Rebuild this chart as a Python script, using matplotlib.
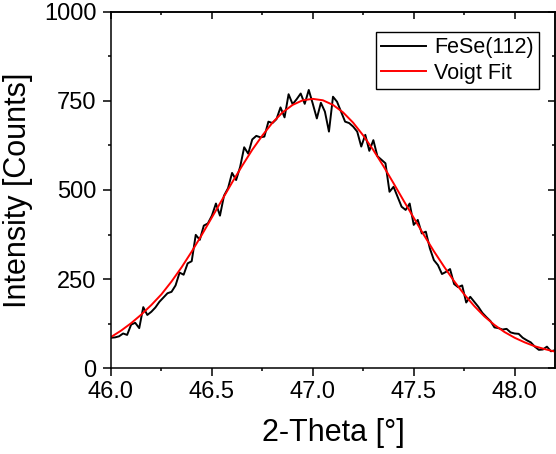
import numpy as np
import matplotlib
matplotlib.use('Agg')
import matplotlib.pyplot as plt
from matplotlib.ticker import MultipleLocator

plt.rcParams['font.family'] = ['Liberation Sans', 'DejaVu Sans']

# measured XRD scan, 0.02 deg steps from 46.00 to 48.20
theta_start, theta_step = 46.0, 0.02
counts = [85, 86, 89, 97, 93, 122, 127, 112, 171, 149,
          158, 170, 186, 198, 210, 214, 232, 268, 262, 294,
          300, 374, 360, 400, 406, 428, 462, 428, 484, 505,
          548, 528, 565, 620, 602, 642, 652, 648, 650, 692,
          688, 699, 732, 704, 769, 741, 755, 771, 742, 781,
          742, 701, 745, 720, 664, 762, 748, 720, 692, 688,
          678, 664, 622, 655, 610, 640, 595, 585, 575, 495,
          509, 481, 453, 444, 462, 402, 416, 378, 383, 336,
          303, 289, 264, 270, 278, 236, 227, 232, 184, 200,
          186, 172, 155, 143, 132, 114, 112, 108, 110, 100,
          97, 96, 85, 78, 72, 60, 51, 52, 60, 47,
          50]

# voigt fit curve, 0.05 deg steps
fit_step = 0.05
fit = [87, 105, 126, 150, 177, 207, 243, 283, 327, 374,
       423, 472, 521, 568, 613, 653, 689, 718, 739, 752,
       756, 752, 739, 718, 689, 653, 612, 567, 519, 470,
       422, 374, 328, 285, 244, 207, 174, 145, 121, 101,
       85, 72, 61, 53, 46]

theta = theta_start + theta_step * np.arange(len(counts))
theta_fit = theta_start + fit_step * np.arange(len(fit))

fig = plt.figure(figsize=(5.56, 4.54), dpi=100)
ax = fig.add_axes([0.1996, 0.1894, 0.7986, 0.7842])

ax.plot(theta, counts, color='black', lw=1.4, label='FeSe(112)')
ax.plot(theta_fit, fit, color='#ff0000', lw=1.4, label='Voigt Fit')

ax.set_xlim(46.0, 48.2)
ax.set_ylim(0, 1000)
ax.xaxis.set_major_locator(MultipleLocator(0.5))
ax.xaxis.set_minor_locator(MultipleLocator(0.25))
ax.yaxis.set_major_locator(MultipleLocator(250))
ax.yaxis.set_minor_locator(MultipleLocator(125))
ax.xaxis.set_major_formatter(matplotlib.ticker.FormatStrFormatter('%.1f'))

for s in ax.spines.values():
    s.set_linewidth(1.1)

ax.tick_params(which='both', direction='out', width=1.1, labelsize=17)
ax.tick_params(which='major', length=5.5)
ax.tick_params(which='minor', length=2.5)
ax.tick_params(axis='x', pad=4)
ax.tick_params(axis='y', pad=5)

# inward ticks on the top and right sides
top = ax.secondary_xaxis('top')
top.xaxis.set_major_locator(MultipleLocator(0.5))
top.xaxis.set_minor_locator(MultipleLocator(0.25))
top.tick_params(which='both', direction='in', width=1.1, labeltop=False)
top.tick_params(which='major', length=5)
top.tick_params(which='minor', length=2.5)
top.spines['top'].set_linewidth(1.1)

right = ax.secondary_yaxis('right')
right.yaxis.set_major_locator(MultipleLocator(250))
right.yaxis.set_minor_locator(MultipleLocator(125))
right.tick_params(which='both', direction='in', width=1.1, labelright=False)
right.tick_params(which='major', length=5)
right.tick_params(which='minor', length=2.5)
right.spines['right'].set_linewidth(1.1)

ax.set_xlabel('2-Theta [°]', fontsize=22, labelpad=11)
ax.set_ylabel('Intensity [Counts]', fontsize=22, labelpad=8)

leg = ax.legend(loc='upper right', bbox_to_anchor=(0.964, 0.944), borderaxespad=0,
                fontsize=15.5, frameon=True, fancybox=False, framealpha=1,
                handlelength=2.1, handletextpad=0.35, labelspacing=0.2,
                borderpad=0.25)
leg.get_frame().set_edgecolor('black')
leg.get_frame().set_linewidth(1.0)

fig.savefig('out.png', dpi=100)
